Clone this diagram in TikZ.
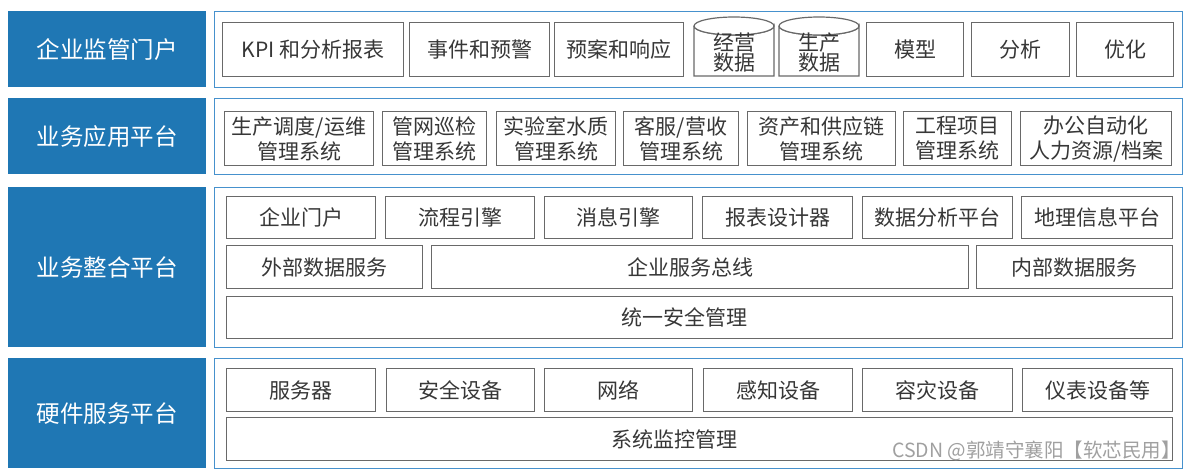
\documentclass[tikz,border=0pt]{standalone}
\usepackage{fontspec}
\setmainfont{Noto Sans CJK SC}
\definecolor{lblue}{RGB}{31,119,180}
\definecolor{pblue}{RGB}{70,145,205}
\definecolor{bgray}{RGB}{105,105,105}
\definecolor{tgray}{RGB}{55,55,55}
\definecolor{wgray}{RGB}{160,160,160}
\tikzset{
  lbl/.style={fill=lblue, draw=none, text=white, inner sep=0pt, font=\fontsize{23.5}{27}\selectfont},
  panel/.style={draw=pblue, line width=1.3pt, fill=white, inner sep=0pt},
  ibox/.style={draw=bgray, line width=1.2pt, fill=white, text=tgray, inner sep=0pt, align=center, font=\fontsize{21}{25}\selectfont},
  cyltxt/.style={text=tgray, inner sep=0pt, align=center, font=\fontsize{21}{21}\selectfont},
  wmark/.style={text=wgray, inner sep=0pt, font=\fontsize{19.5}{19.5}\selectfont}
}
\newcommand\mybox[7]{\pgfmathsetmacro\ww{#4-#2}\pgfmathsetmacro\hh{#5-#3}%
  \node[#7, minimum width=\ww pt, minimum height=\hh pt, anchor=north west] (#1) at (#2,#3) {#6};}
\newcommand\mycyl[6]{% name x1 y1(ellipse center) x2 y2 text
  \pgfmathsetmacro\cx{(#2+#4)/2}\pgfmathsetmacro\rx{(#4-#2)/2}
  \filldraw[draw=bgray, fill=white, line width=1.2pt] (#2,#3) -- (#2,#5) -- (#4,#5) -- (#4,#3) arc[start angle=0, end angle=-180, x radius=\rx pt, y radius=9pt];
  \filldraw[draw=bgray, fill=white, line width=1.2pt] (\cx,#3) ellipse[x radius=\rx pt, y radius=9pt];
  \node[cyltxt] (#1) at (\cx,{(#3+#5)/2+2}) {#6};}
\begin{document}
\begin{tikzpicture}[x=1pt,y=-1pt]
\useasboundingbox[fill=white] (0,0) rectangle (1190,469);
% blue labels
\mybox{l1}{8}{11}{206}{87}{企业监管门户}{lbl}
\mybox{l2}{8}{98}{206}{174}{业务应用平台}{lbl}
\mybox{l3}{8}{187}{206}{347}{业务整合平台}{lbl}
\mybox{l4}{8}{358}{206}{468}{硬件服务平台}{lbl}
% panels
\mybox{p1}{214}{11}{1182}{87}{}{panel}
\mybox{p2}{214}{98}{1182}{174}{}{panel}
\mybox{p3}{214}{187}{1182}{347}{}{panel}
\mybox{p4}{214}{358}{1182}{468}{}{panel}
% row 1
\mybox{kpi}{222}{22}{403}{76}{KPI 和分析报表}{ibox}
\mybox{evt}{409}{22}{549}{76}{事件和预警}{ibox}
\mybox{plan}{554}{22}{683}{76}{预案和响应}{ibox}
\mycyl{cyla}{694}{26}{774}{76}{经营\\[-1pt]数据}
\mycyl{cylb}{779}{26}{859}{76}{生产\\[-1pt]数据}
\mybox{model}{866}{22}{963}{76}{模型}{ibox}
\mybox{anal}{971}{22}{1069}{76}{分析}{ibox}
\mybox{optm}{1076}{22}{1173}{76}{优化}{ibox}
% row 2
\mybox{sa}{224}{111}{373}{165}{生产调度/运维\\管理系统}{ibox}
\mybox{sb}{382}{111}{486}{165}{管网巡检\\管理系统}{ibox}
\mybox{sc}{496}{111}{615}{165}{实验室水质\\管理系统}{ibox}
\mybox{sd}{623}{111}{738}{165}{客服/营收\\管理系统}{ibox}
\mybox{se}{747}{111}{895}{165}{资产和供应链\\管理系统}{ibox}
\mybox{sf}{903}{111}{1011}{165}{工程项目\\管理系统}{ibox}
\mybox{sg}{1020}{111}{1171}{165}{办公自动化\\人力资源/档案}{ibox}
% row 3
\mybox{ta}{226}{196}{375}{238}{企业门户}{ibox}
\mybox{tb}{385}{196}{534}{238}{流程引擎}{ibox}
\mybox{tc}{544}{196}{692}{238}{消息引擎}{ibox}
\mybox{td}{702}{196}{852}{238}{报表设计器}{ibox}
\mybox{te}{862}{196}{1012}{238}{数据分析平台}{ibox}
\mybox{tf}{1021}{196}{1172}{238}{地理信息平台}{ibox}
\mybox{ua}{226}{245}{422}{288}{外部数据服务}{ibox}
\mybox{ub}{431}{245}{968}{288}{\hspace*{-19pt}企业服务总线}{ibox}
\mybox{uc}{976}{245}{1172}{288}{内部数据服务}{ibox}
\mybox{va}{226}{296}{1172}{338}{\hspace*{-30pt}统一安全管理}{ibox}
% row 4
\mybox{ha}{226}{368}{375}{411}{服务器}{ibox}
\mybox{hb}{386}{368}{534}{411}{安全设备}{ibox}
\mybox{hc}{544}{368}{692}{411}{网络}{ibox}
\mybox{hd}{703}{368}{852}{411}{感知设备}{ibox}
\mybox{he}{862}{368}{1012}{411}{容灾设备}{ibox}
\mybox{hf}{1022}{368}{1172}{411}{仪表设备等}{ibox}
\mybox{hg}{226}{417}{1172}{460}{\hspace*{-50pt}系统监控管理}{ibox}
% watermark
\node[wmark, anchor=east] (wm) at (1181,451) {CSDN @郭靖守襄阳【软芯民用】};
\end{tikzpicture}
\end{document}
